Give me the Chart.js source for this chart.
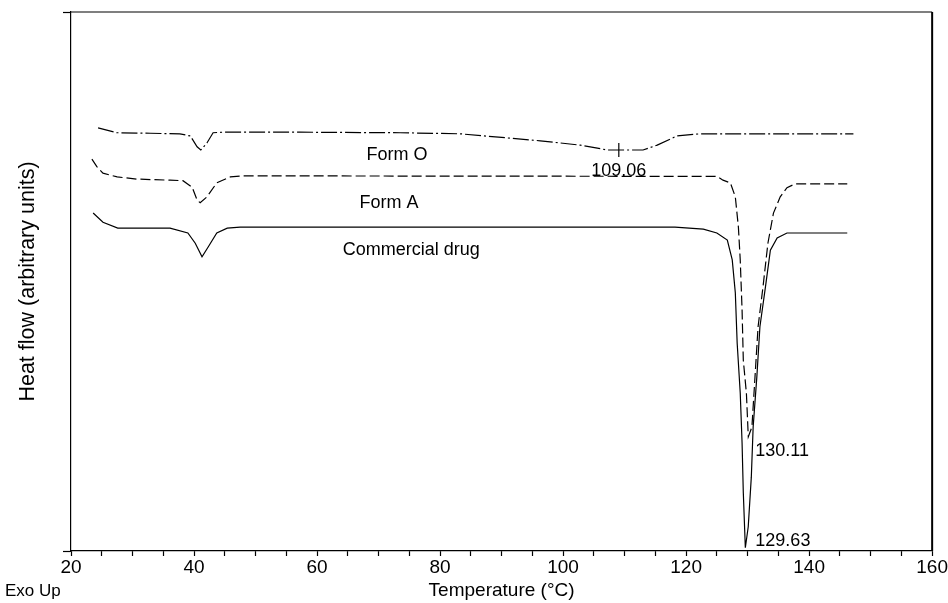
<!DOCTYPE html>
<html>
<head>
<meta charset="utf-8">
<script src="https://cdn.jsdelivr.net/npm/chart.js@4.4.0/dist/chart.umd.min.js"></script>
<style>
  html, body { margin: 0; padding: 0; background: #fff; }
  #wrap { width: 948px; height: 603px; }
</style>
</head>
<body>
<div id="wrap"><canvas id="dsc"></canvas></div>
<script>
// DSC thermograms, heat flow in arbitrary units (exo up)
const formOTemp = [24.4, 27.5, 32.9, 37.7, 39.4, 40.5, 41.1, 42.1, 43.1, 44.7, 57.2, 73.5, 83.3, 96.3, 102.8, 107.2, 109.06, 113.0, 115.3, 118.5, 122.3, 147.2];
const formOHeat = [78.5, 77.6, 77.5, 77.4, 77.0, 75.0, 74.4, 75.7, 77.6, 77.7, 77.7, 77.6, 77.4, 76.1, 75.3, 74.4, 74.4, 74.4, 75.3, 77.0, 77.4, 77.4];

const formATemp = [23.4, 24.2, 25.2, 27.5, 30.7, 36.1, 38.2, 39.7, 40.5, 41.0, 42.1, 43.7, 45.9, 48.0, 125.0, 126.0, 127.2, 128.0, 128.5, 128.8, 129.1, 129.3, 129.8, 130.11, 130.7, 131.2, 131.7, 132.5, 133.3, 134.2, 135.3, 136.4, 137.7, 146.2];
const formAHeat = [72.7, 71.3, 70.1, 69.4, 69.0, 68.8, 68.7, 67.5, 65.1, 64.6, 65.7, 68.3, 69.4, 69.6, 69.5, 68.8, 68.3, 65.7, 60.1, 54.0, 44.7, 35.4, 29.3, 21.2, 23.0, 32.3, 41.6, 49.0, 57.1, 62.7, 65.7, 67.4, 68.1, 68.1];

const drugTemp = [23.6, 25.2, 27.6, 36.1, 39.0, 40.2, 41.3, 42.3, 43.7, 45.4, 47.5, 118.2, 122.8, 125.0, 126.7, 127.5, 128.0, 128.3, 128.8, 129.1, 129.3, 129.63, 130.1, 130.6, 130.9, 131.5, 132.0, 132.9, 133.7, 134.8, 136.4, 146.2];
const drugHeat = [62.7, 61.0, 59.9, 59.9, 59.0, 57.1, 54.6, 56.4, 59.0, 59.9, 60.1, 60.1, 59.7, 59.0, 57.7, 54.0, 47.9, 38.6, 29.3, 20.0, 10.8, 0.6, 4.5, 13.7, 23.0, 32.3, 41.6, 49.0, 55.8, 58.1, 59.0, 59.0];

const formOPeak = 109.06;
const formAPeak = 130.11;
const drugPeak = 129.63;

const xTicks = [20, 40, 60, 80, 100, 120, 140, 160];

const FONT = "'Liberation Sans', Arial, Helvetica, sans-serif";

function toPoints(xs, ys) {
  return xs.map((x, i) => ({ x: x, y: ys[i] }));
}

function heatAt(xs, ys, t) {
  return ys[xs.indexOf(t)];
}

// frame, curve names, peak markers and "Exo Up"
const annotate = {
  id: 'annotate',
  afterDraw(chart) {
    const ctx = chart.ctx;
    const a = chart.chartArea;
    const xs = chart.scales.x;
    const ys = chart.scales.y;
    ctx.save();
    ctx.strokeStyle = '#000';
    ctx.lineWidth = 1.2;
    ctx.beginPath();
    ctx.moveTo(a.left, a.top);
    ctx.lineTo(a.right, a.top);
    ctx.stroke();
    ctx.lineWidth = 2;
    ctx.beginPath();
    ctx.moveTo(a.right, a.top);
    ctx.lineTo(a.right, a.bottom);
    ctx.stroke();

    ctx.fillStyle = '#000';
    ctx.font = '18px ' + FONT;
    ctx.textBaseline = 'middle';
    ctx.textAlign = 'center';
    ctx.fillText('Form O', xs.getPixelForValue(73.0), ys.getPixelForValue(73.5));
    ctx.fillText('Form A', xs.getPixelForValue(71.7), ys.getPixelForValue(64.6));
    ctx.fillText('Commercial drug', xs.getPixelForValue(75.3), ys.getPixelForValue(55.8));

    // Form O peak: cross mark and value
    const ox = xs.getPixelForValue(formOPeak);
    const oy = ys.getPixelForValue(heatAt(formOTemp, formOHeat, formOPeak));
    ctx.lineWidth = 1.2;
    ctx.beginPath();
    ctx.moveTo(ox, oy - 7);
    ctx.lineTo(ox, oy + 7);
    ctx.stroke();
    ctx.fillText(formOPeak.toFixed(2), ox, oy + 21);

    ctx.textAlign = 'left';
    const ax = xs.getPixelForValue(formAPeak);
    const ay = ys.getPixelForValue(heatAt(formATemp, formAHeat, formAPeak));
    ctx.fillText(formAPeak.toFixed(2), ax + 7, ay + 14);

    const dx = xs.getPixelForValue(drugPeak);
    const dy = ys.getPixelForValue(heatAt(drugTemp, drugHeat, drugPeak));
    ctx.fillText(drugPeak.toFixed(2), dx + 10, dy - 7);

    ctx.font = '17px ' + FONT;
    ctx.fillText('Exo Up', 5, 591);
    ctx.restore();
  }
};

const ctx = document.getElementById('dsc').getContext('2d');

new Chart(ctx, {
  type: 'line',
  data: {
    datasets: [
      {
        label: 'Form O',
        data: toPoints(formOTemp, formOHeat),
        borderColor: '#000',
        borderWidth: 1.2,
        borderDash: [16, 3, 2, 3],
        pointRadius: 0,
        tension: 0
      },
      {
        label: 'Form A',
        data: toPoints(formATemp, formAHeat),
        borderColor: '#000',
        borderWidth: 1.2,
        borderDash: [10, 4],
        pointRadius: 0,
        tension: 0
      },
      {
        label: 'Commercial drug',
        data: toPoints(drugTemp, drugHeat),
        borderColor: '#000',
        borderWidth: 1.2,
        pointRadius: 0,
        tension: 0
      }
    ]
  },
  options: {
    responsive: true,
    maintainAspectRatio: false,
    animation: false,
    layout: { padding: { top: 12, right: 15, left: 0, bottom: 0 } },
    plugins: {
      legend: { display: false },
      tooltip: { enabled: false }
    },
    scales: {
      x: {
        type: 'linear',
        position: 'bottom',
        min: 20,
        max: 160,
        border: { color: '#000', width: 1.2 },
        grid: { drawOnChartArea: false, color: '#000', tickLength: 5, tickWidth: 1.2 },
        ticks: {
          stepSize: 5,
          autoSkip: false,
          maxRotation: 0,
          padding: 0,
          color: '#000',
          font: { family: FONT, size: 19 },
          callback: v => (xTicks.includes(v) ? String(v) : '')
        },
        title: {
          display: true,
          text: 'Temperature (°C)',
          color: '#000',
          font: { family: FONT, size: 19 },
          padding: { top: 0, bottom: 1 }
        },
        afterFit: s => { s.height = 52; }
      },
      y: {
        min: 0,
        max: 100,
        border: { color: '#000', width: 1.2 },
        grid: { drawOnChartArea: false, color: '#000', tickLength: 8, tickWidth: 1.2 },
        ticks: { display: false, stepSize: 100 },
        title: {
          display: true,
          text: 'Heat flow (arbitrary units)',
          color: '#000',
          font: { family: FONT, size: 21.5 },
          padding: { top: 15, bottom: 0 }
        },
        afterFit: s => { s.width = 71; }
      }
    }
  },
  plugins: [annotate]
});
</script>
</body>
</html>
